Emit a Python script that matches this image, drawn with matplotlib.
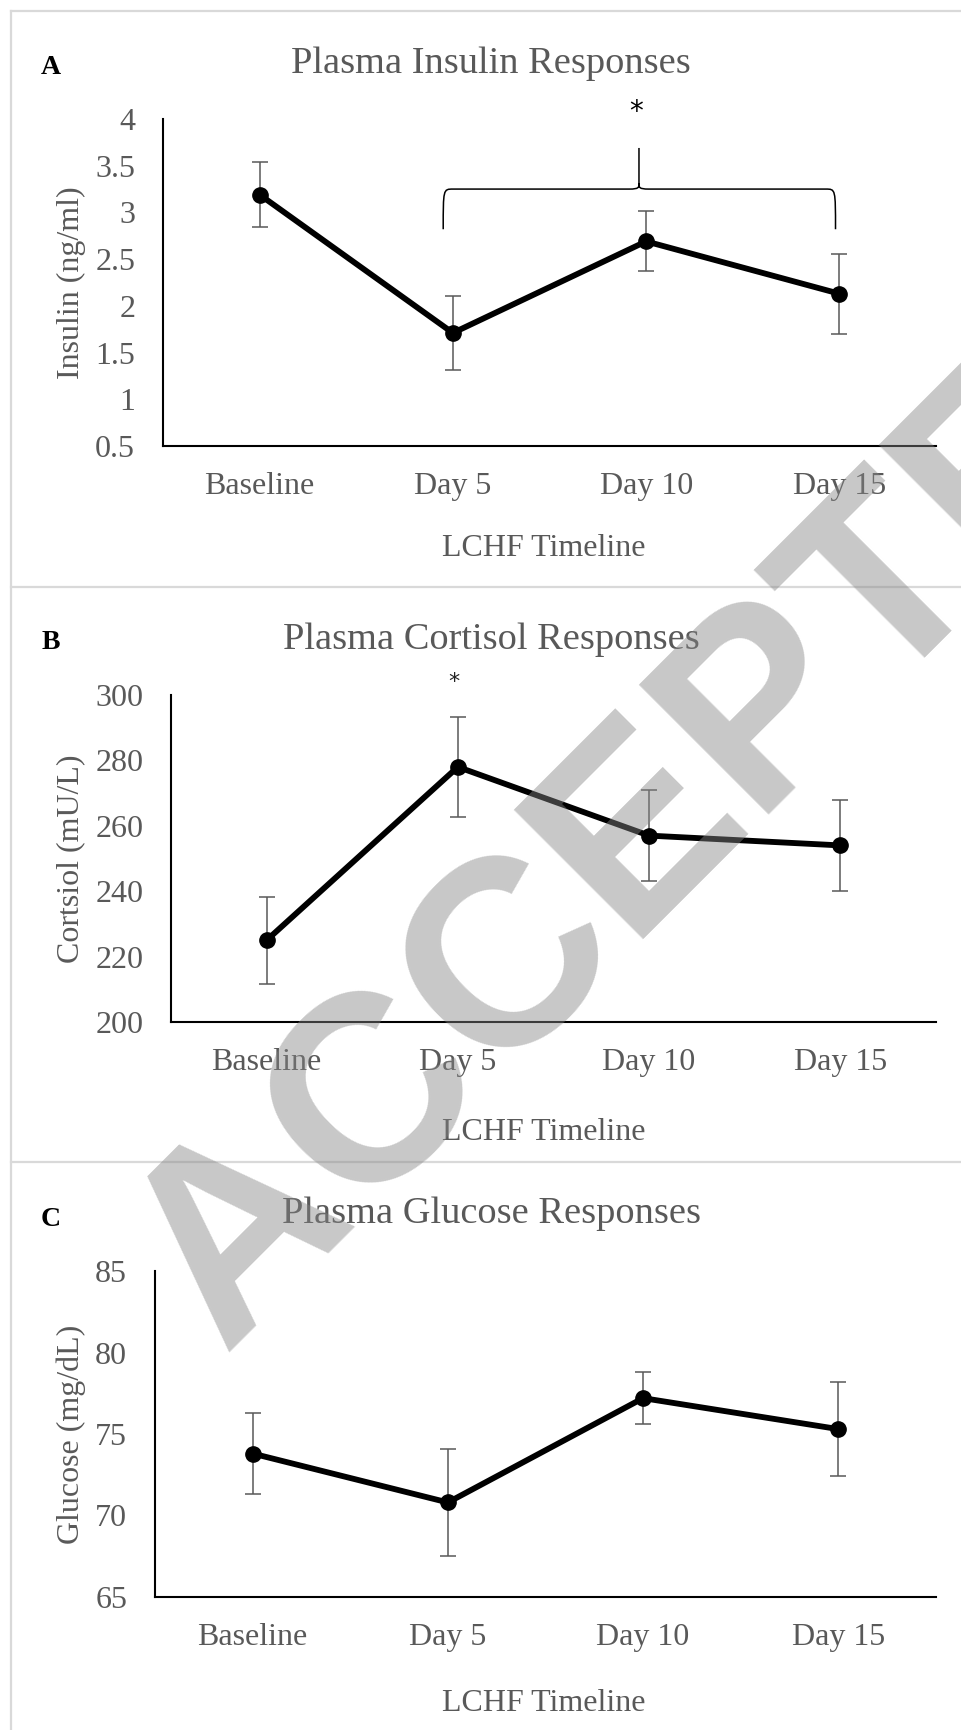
import numpy as np
import matplotlib
matplotlib.use('Agg')
import matplotlib.pyplot as plt
from matplotlib.path import Path
from matplotlib.patches import PathPatch
from matplotlib.lines import Line2D

# ---------------- data ----------------
categories = ['Baseline', 'Day 5', 'Day 10', 'Day 15']

insulin_mean = [3.19, 1.71, 2.69, 2.13]
insulin_err = [0.35, 0.40, 0.32, 0.43]
insulin_ticks = [0.5, 1, 1.5, 2, 2.5, 3, 3.5, 4]
insulin_ticklabels = ['0.5', '1', '1.5', '2', '2.5', '3', '3.5', '4']

cortisol_mean = [225, 278, 257, 254]
cortisol_err = [13.3, 15.3, 14.0, 13.8]
cortisol_ticks = [200, 220, 240, 260, 280, 300]
cortisol_ticklabels = ['200', '220', '240', '260', '280', '300']

glucose_mean = [73.8, 70.8, 77.2, 75.3]
glucose_err = [2.5, 3.3, 1.6, 2.9]
glucose_ticks = [65, 70, 75, 80, 85]
glucose_ticklabels = ['65', '70', '75', '80', '85']

titles = ['Plasma Insulin Responses', 'Plasma Cortisol Responses', 'Plasma Glucose Responses']
ylabels = ['Insulin (ng/ml)', 'Cortsiol (mU/L)', 'Glucose (mg/dL)']
xlabel = 'LCHF Timeline'
panel_letters = ['A', 'B', 'C']

# ---------------- style ----------------
plt.rcParams['font.family'] = ['Liberation Serif', 'DejaVu Serif']
GRAY = '#595959'
W, H = 961, 1730

fig = plt.figure(figsize=(W / 100, H / 100), dpi=100)
fig.patch.set_facecolor('white')


def fx(x):
    return x / W


def fy(y):
    return 1 - y / H


def add_ax(left, top, right, bottom):
    return fig.add_axes([fx(left), fy(bottom), (right - left) / W, (bottom - top) / H])


# panel frames
for (x0, y0, x1, y1) in [(11, 11, 961, 11), (11, 11, 11, 1730), (11, 587, 961, 587), (11, 1162, 961, 1162)]:
    fig.add_artist(Line2D([fx(x0), fx(x1)], [fy(y0), fy(y1)], color='#d9d9d9', lw=1.6))

panels = [
    dict(box=(163, 119, 936, 446), mean=insulin_mean, err=insulin_err, ticks=insulin_ticks,
         tl=insulin_ticklabels, title_y=73, letter_y=74, xl_y=556, yl_y=283),
    dict(box=(171, 695, 936, 1022), mean=cortisol_mean, err=cortisol_err, ticks=cortisol_ticks,
         tl=cortisol_ticklabels, title_y=649, letter_y=649, xl_y=1140, yl_y=859),
    dict(box=(155, 1271, 936, 1597), mean=glucose_mean, err=glucose_err, ticks=glucose_ticks,
         tl=glucose_ticklabels, title_y=1223, letter_y=1226, xl_y=1711, yl_y=1434),
]

x = np.arange(len(categories))
axes = []
for i, p in enumerate(panels):
    ax = add_ax(*p['box'])
    axes.append(ax)
    ax.errorbar(x, p['mean'], yerr=p['err'], fmt='none', ecolor=GRAY, elinewidth=1.1,
                capsize=5.8, capthick=1.1, zorder=2)
    ax.plot(x, p['mean'], color='black', lw=4.2, marker='o', ms=11, zorder=3,
            solid_joinstyle='round')
    ax.set_xlim(-0.5, len(categories) - 0.5)
    ax.set_ylim(p['ticks'][0], p['ticks'][-1])
    ax.set_yticks(p['ticks'])
    ax.set_yticklabels(p['tl'])
    ax.set_xticks(x)
    ax.set_xticklabels(categories)
    for s in ['top', 'right']:
        ax.spines[s].set_visible(False)
    for s in ['left', 'bottom']:
        ax.spines[s].set_color('black')
        ax.spines[s].set_linewidth(1.5)
    ax.tick_params(axis='both', length=0, labelsize=23, labelcolor=GRAY)
    ax.tick_params(axis='y', pad=20)
    ax.tick_params(axis='x', pad=19)
    ax.set_facecolor('none')

    fig.text(fx(491), fy(p['title_y']), titles[i], ha='center', va='baseline',
             fontsize=27.6, color=GRAY)
    fig.text(fx(51), fy(p['letter_y']), panel_letters[i], ha='center', va='baseline',
             fontsize=20, fontweight='bold', color='black')
    fig.text(fx(544), fy(p['xl_y']), xlabel, ha='center', va='baseline',
             fontsize=23, color=GRAY)
    fig.text(fx(71), fy(p['yl_y']), ylabels[i], ha='center', va='center', rotation=90,
             fontsize=23, color=GRAY)

# significance bracket on panel A (data coords)
axA = axes[0]
bx0, bx1, bxm = 0.95, 2.98, 1.963
by_end, by_h, by_peak = 2.82, 3.25, 3.69
dxc, dyc = 0.05, 0.06
verts = [
    (bx0, by_end),
    (bx0, by_h), (bx0, by_h), (bx0 + dxc, by_h),
    (bxm - dxc, by_h),
    (bxm, by_h), (bxm, by_h + dyc * 0.3), (bxm, by_h + dyc),
    (bxm, by_peak),
    (bxm, by_h + dyc),
    (bxm, by_h + dyc * 0.3), (bxm, by_h), (bxm + dxc, by_h),
    (bx1 - dxc, by_h),
    (bx1, by_h), (bx1, by_h), (bx1, by_end),
]
codes = [Path.MOVETO,
         Path.CURVE4, Path.CURVE4, Path.CURVE4,
         Path.LINETO,
         Path.CURVE4, Path.CURVE4, Path.CURVE4,
         Path.LINETO,
         Path.MOVETO,
         Path.CURVE4, Path.CURVE4, Path.CURVE4,
         Path.LINETO,
         Path.CURVE4, Path.CURVE4, Path.CURVE4]
axA.add_patch(PathPatch(Path(verts, codes), fill=False, edgecolor='black', lw=1.1,
                        clip_on=False, zorder=4))
axA.text(1.95, 4.08, '*', ha='center', va='center', fontsize=20, color='black',
         family='DejaVu Sans', clip_on=False)
axes[1].text(0.98, 304, '*', ha='center', va='center', fontsize=16, color='#222222',
             family='DejaVu Sans', clip_on=False)

# watermark
fig.text(fx(223), fy(1353), 'ACCEPTED', rotation=45, rotation_mode='anchor',
         ha='left', va='baseline', fontsize=191, fontweight='bold',
         family='Liberation Sans', color=(133 / 255, 133 / 255, 133 / 255), alpha=0.45,
         zorder=10)

fig.savefig('out.png', dpi=100, facecolor='white')
